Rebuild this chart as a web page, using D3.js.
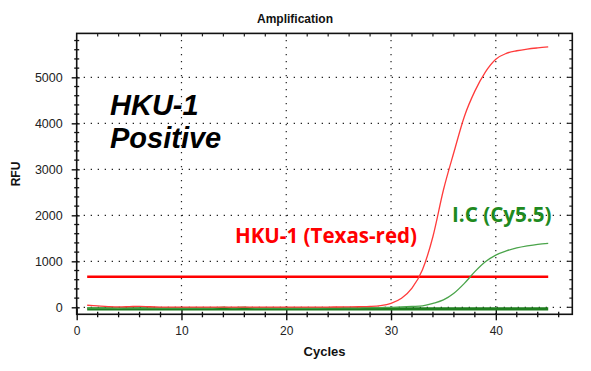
<!DOCTYPE html>
<html>
<head>
<meta charset="utf-8">
<script src="https://cdn.jsdelivr.net/npm/d3@7"></script>
<style>
  body { margin: 0; background: #fff; }
  svg { display: block; }
</style>
</head>
<body>
<svg id="chart" width="591" height="371"></svg>
<script>
// cycles 1..45
var cycles = d3.range(1, 46)

// HKU-1 (Texas-red) RFU per cycle
var redRFU = [45, 30, 16, 8, 14, 22, 12, 6, 4, 3,
              3, 2, 6, 3, 2, 3, 2, 4, 3, 3,
              4, 5, 5, 6, 7, 9, 12, 18, 36, 85,
              195, 415, 815, 1540, 2550, 3370, 4150, 4700, 5115, 5395,
              5520, 5578, 5615, 5640, 5660]

// I.C (Cy5.5) RFU per cycle
var greenRFU = [-18, -16, -18, -20, -17, -18, -19, -16, -18, -19,
                -17, -18, -16, 2, -14, 6, -16, -18, -17, -16,
                -16, -15, -15, -14, -13, -12, -10, -8, -5, 0,
                8, 18, 30, 85, 160, 305, 520, 775, 990, 1135,
                1225, 1290, 1335, 1370, 1390]

var thresholds = [
    {name: "red", value: 665, from: 1, to: 45},
    {name: "green", value: -32, from: 1, to: 45}
]

var xTicks = [0, 10, 20, 30, 40]
var yTicks = [0, 1000, 2000, 3000, 4000, 5000]

var colors = {
    red: "#ff3b3b", redThr: "#ff0000", redText: "#ff0000",
    green: "#4aa44a", greenThr: "#1e7e1e", greenText: "#1f8a1f"
}

var svg = d3.select("#chart")
var font = "'Liberation Sans', Arial, sans-serif"

var x = d3.scaleLinear().domain([0, 47.3]).range([76.7, 572.3])
var y = d3.scaleLinear().domain([-152, 5955]).range([314.3, 33.4])

var pLeft = x.range()[0], pRight = x.range()[1]
var pTop = y.range()[1], pBottom = y.range()[0]

// grid (dotted)
var grid = svg.append("g")
grid.selectAll(".hg").data(yTicks).join("line")
    .attr("x1", pLeft).attr("x2", pRight)
    .attr("y1", function(d) { return y(d) }).attr("y2", function(d) { return y(d) })
    .attr("stroke", "#222").attr("stroke-width", 1.2)
    .attr("stroke-dasharray", "1.3,5.7")
grid.selectAll(".vg").data(xTicks.slice(1)).join("line")
    .attr("x1", function(d) { return x(d) }).attr("x2", function(d) { return x(d) })
    .attr("y1", pBottom).attr("y2", pTop)
    .attr("stroke", "#222").attr("stroke-width", 1.2)
    .attr("stroke-dasharray", "1.3,5.7")

// frame ticks on top and right (inward)
var xMinor = d3.range(2, 47, 2)
var yMinor = d3.range(0, 5801, 200)
svg.append("g").selectAll("line").data(xMinor).join("line")
    .attr("x1", function(d) { return x(d) }).attr("x2", function(d) { return x(d) })
    .attr("y1", pTop).attr("y2", pTop + 3)
    .attr("stroke", "#222").attr("stroke-width", 1.2)
svg.append("g").selectAll("line").data(yMinor).join("line")
    .attr("x1", pRight).attr("x2", function(d) { return d % 1000 == 0 ? pRight - 5 : pRight - 3 })
    .attr("y1", function(d) { return y(d) }).attr("y2", function(d) { return y(d) })
    .attr("stroke", "#222").attr("stroke-width", 1.2)

// frame
svg.append("rect")
    .attr("x", pLeft).attr("y", pTop)
    .attr("width", pRight - pLeft).attr("height", pBottom - pTop)
    .attr("fill", "none").attr("stroke", "#111").attr("stroke-width", 1.6)

// bottom axis
var xAxis = svg.append("g").attr("transform", "translate(0," + pBottom + ")")
    .call(d3.axisBottom(x).tickValues(xTicks).tickFormat(d3.format("d"))
        .tickSize(6).tickSizeOuter(0).tickPadding(6))
xAxis.select(".domain").remove()
xAxis.selectAll(".tick line").attr("y1", -6).attr("stroke", "#111").attr("stroke-width", 1.4)
xAxis.selectAll("text").attr("font-family", font).attr("font-size", 12).attr("fill", "#222")
svg.append("g").selectAll("line").data(xMinor.filter(function(d) { return d % 10 != 0 })).join("line")
    .attr("x1", function(d) { return x(d) }).attr("x2", function(d) { return x(d) })
    .attr("y1", pBottom - 2.5).attr("y2", pBottom + 3)
    .attr("stroke", "#111").attr("stroke-width", 1.3)

// left axis
var yAxis = svg.append("g").attr("transform", "translate(" + pLeft + ",0)")
    .call(d3.axisLeft(y).tickValues(yTicks).tickFormat(d3.format("d"))
        .tickSize(5).tickSizeOuter(0).tickPadding(9))
yAxis.select(".domain").remove()
yAxis.selectAll(".tick line").attr("x1", 3).attr("stroke", "#111").attr("stroke-width", 1.4)
yAxis.selectAll("text").attr("font-family", font).attr("font-size", 12.5).attr("fill", "#222")
svg.append("g").selectAll("line").data(yMinor.filter(function(d) { return d % 1000 != 0 })).join("line")
    .attr("x1", pLeft - 2.5).attr("x2", pLeft + 2.5)
    .attr("y1", function(d) { return y(d) }).attr("y2", function(d) { return y(d) })
    .attr("stroke", "#111").attr("stroke-width", 1.3)

// thresholds
svg.append("g").selectAll("line").data(thresholds).join("line")
    .attr("x1", function(d) { return x(d.from) }).attr("x2", function(d) { return x(d.to) })
    .attr("y1", function(d) { return y(d.value) }).attr("y2", function(d) { return y(d.value) })
    .attr("stroke", function(d) { return d.name == "red" ? colors.redThr : colors.greenThr })
    .attr("stroke-width", function(d) { return d.name == "red" ? 2.4 : 3.2 })

// curves
var line = d3.line()
    .x(function(d) { return x(d[0]) })
    .y(function(d) { return y(d[1]) })
    .curve(d3.curveMonotoneX)

svg.append("path")
    .datum(cycles.map(function(c, i) { return [c, greenRFU[i]] }))
    .attr("d", line).attr("fill", "none")
    .attr("stroke", colors.green).attr("stroke-width", 1.3)
svg.append("path")
    .datum(cycles.map(function(c, i) { return [c, redRFU[i]] }))
    .attr("d", line).attr("fill", "none")
    .attr("stroke", colors.red).attr("stroke-width", 1.3)

// titles
svg.append("text").attr("x", 295).attr("y", 23).attr("text-anchor", "middle")
    .attr("font-family", font).attr("font-size", 12).attr("font-weight", "bold")
    .attr("fill", "#111").text("Amplification")
svg.append("text").attr("x", (pLeft + pRight) / 2).attr("y", 356).attr("text-anchor", "middle")
    .attr("font-family", font).attr("font-size", 13).attr("font-weight", "bold")
    .attr("fill", "#111").text("Cycles")
svg.append("text").attr("transform", "translate(20,174) rotate(-90)").attr("text-anchor", "middle")
    .attr("font-family", font).attr("font-size", 12).attr("font-weight", "bold")
    .attr("fill", "#111").text("RFU")

// annotations
svg.append("text").attr("x", 110).attr("y", 115)
    .attr("font-family", font).attr("font-size", 29).attr("font-weight", "bold")
    .attr("font-style", "italic").attr("fill", "#000").text("HKU-1")
svg.append("text").attr("x", 110).attr("y", 148)
    .attr("font-family", font).attr("font-size", 29).attr("font-weight", "bold")
    .attr("font-style", "italic").attr("fill", "#000").text("Positive")

svg.append("text").attr("x", 235).attr("y", 243.3)
    .attr("font-family", "'Open Sans', sans-serif").attr("font-size", 22).attr("font-weight", "bold")
    .attr("textLength", 182).attr("lengthAdjust", "spacingAndGlyphs")
    .attr("fill", colors.redText).text("HKU-1 (Texas-red)")
svg.append("text").attr("x", 452).attr("y", 222.3)
    .attr("font-family", "'Open Sans', sans-serif").attr("font-size", 20.5).attr("font-weight", "bold")
    .attr("textLength", 99.5).attr("lengthAdjust", "spacingAndGlyphs")
    .attr("fill", colors.greenText).text("I.C (Cy5.5)")
</script>
</body>
</html>
